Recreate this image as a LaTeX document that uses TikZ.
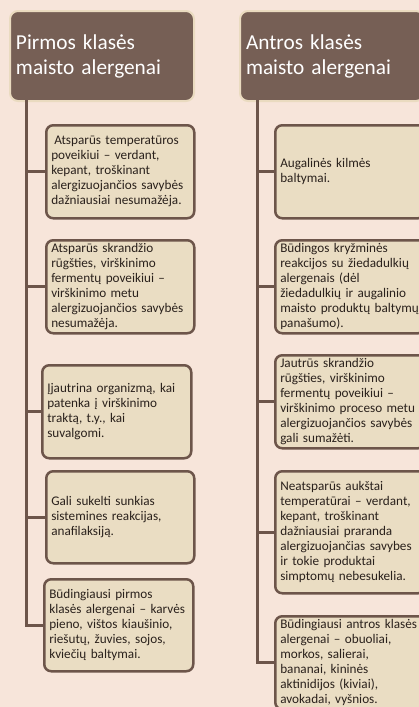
\documentclass[tikz,border=0pt]{standalone}
\usepackage{fontspec}
\setmainfont{Carlito}
\definecolor{bg}{HTML}{F7E5DA}
\definecolor{boxfill}{HTML}{EADDC3}
\definecolor{boxline}{HTML}{6D554A}
\definecolor{hdrfill}{HTML}{765F55}
\definecolor{hdrline}{HTML}{EADBC0}
\definecolor{txt}{HTML}{2A211C}
\begin{document}
\begin{tikzpicture}[x=1pt,y=-1pt,
  box/.style={draw=boxline, line width=2.5pt, fill=boxfill, rounded corners=7pt,
    anchor=north west, align=left, inner xsep=5pt, inner ysep=0pt, text=txt,
    font=\fontsize{13.2}{15}\selectfont},
  hdr/.style={draw=hdrline, line width=2pt, fill=hdrfill, rounded corners=8pt,
    anchor=north west, align=left, inner xsep=6pt, inner ysep=0pt, text=white,
    font=\fontsize{21.3}{25}\selectfont},
  conn/.style={draw=boxline, line width=3pt}]
\fill[bg] (0,0) rectangle (419,707);
\useasboundingbox (0,0) rectangle (419,707);

% headers
\node[hdr, text width=172pt, minimum height=90pt] (lh) at (9,10) {Pirmos klasės\\maisto alergenai};
\node[hdr, text width=172pt, minimum height=90pt] (rh) at (239,10) {Antros klasės\\maisto alergenai};

\coordinate (ls) at (26,100);
\coordinate (rs) at (257,100);

% left boxes
\node[box, text width=138pt, minimum height=93pt] (l1) at (45,124)
  {\hspace*{3pt}Atsparūs temperatūros\\poveikiui – verdant,\\kepant, troškinant\\alergizuojančios savybės\\dažniausiai nesumažėja.};
\node[box, text width=138pt, minimum height=93pt] (l2) at (45,239)
  {Atsparūs skrandžio\\rūgšties, virškinimo\\fermentų poveikiui –\\virškinimo metu\\alergizuojančios savybės\\nesumažėja.};
\node[box, text width=139pt, minimum height=93pt] (l3) at (41,364)
  {Įjautrina organizmą, kai\\patenka į virškinimo\\traktą, t.y., kai\\suvalgomi.};
\node[box, text width=138pt, minimum height=92pt] (l4) at (45,470)
  {Gali sukelti sunkias\\sistemines reakcijas,\\anafilaksiją.};
\node[box, text width=139pt, minimum height=92pt] (l5) at (43,578)
  {Būdingiausi pirmos\\klasės alergenai – karvės\\pieno, vištos kiaušinio,\\riešutų, žuvies, sojos,\\kviečių baltymai.};

% right boxes
\node[box, text width=140pt, minimum height=93pt] (r1) at (274,124)
  {Augalinės kilmės\\baltymai.};
\node[box, text width=140pt, minimum height=93pt] (r2) at (274,239)
  {Būdingos kryžminės\\reakcijos su žiedadulkių\\alergenais (dėl\\žiedadulkių ir augalinio\\maisto produktų baltymų\\panašumo).};
\node[box, text width=140pt, minimum height=93pt] (r3) at (274,354)
  {Jautrūs skrandžio\\rūgšties, virškinimo\\fermentų poveikiui –\\virškinimo proceso metu\\alergizuojančios savybės\\gali sumažėti.};
\node[box, text width=140pt, minimum height=122pt] (r4) at (274,470)
  {Neatsparūs aukštai\\temperatūrai – verdant,\\kepant, troškinant\\dažniausiai praranda\\alergizuojančias savybes\\ir tokie produktai\\simptomų nebesukelia.};
\node[box, text width=140pt, minimum height=93pt] (r5) at (274,615)
  {Būdingiausi antros klasės\\alergenai – obuoliai,\\morkos, salierai,\\bananai, kininės\\aktinidijos (kiviai),\\avokadai, vyšnios.};

% connectors
\draw[conn] (ls) |- (l5.west);
\foreach \n in {l1,l2,l3,l4} \draw[conn] (ls |- \n.west) -- (\n.west);
\draw[conn] (rs) |- (r5.west);
\foreach \n in {r1,r2,r3,r4} \draw[conn] (rs |- \n.west) -- (\n.west);
\end{tikzpicture}
\end{document}
